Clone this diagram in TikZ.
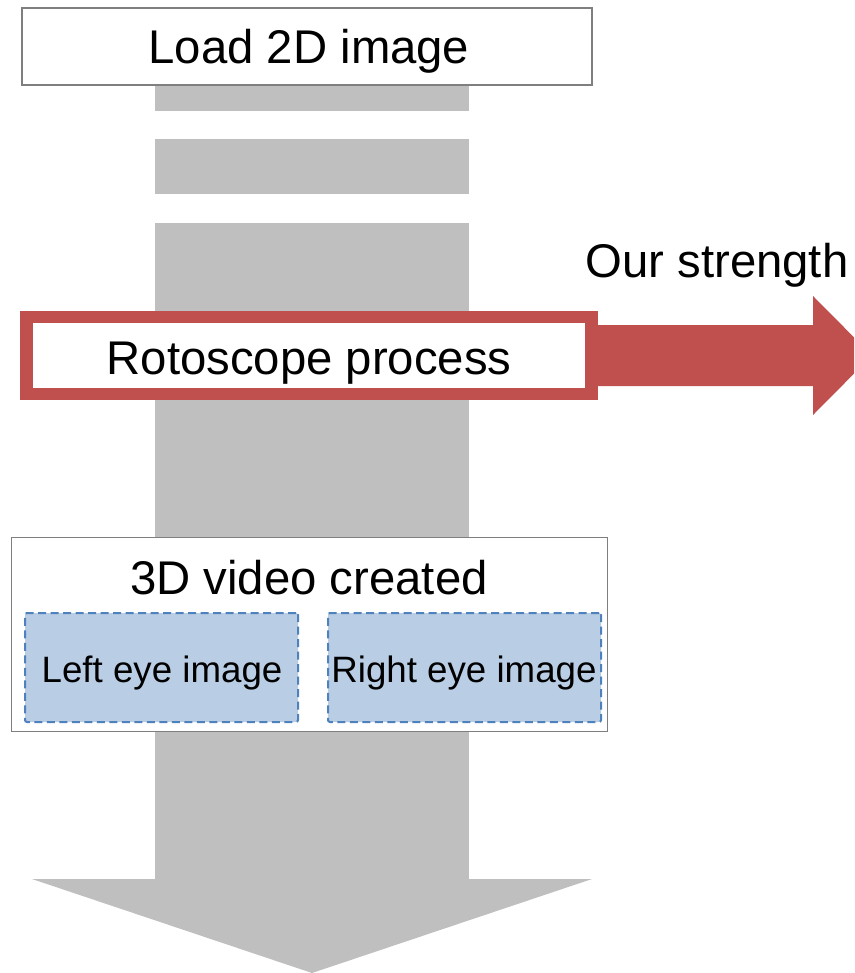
\documentclass[tikz,border=0pt]{standalone}
\usepackage{fontspec}
\setmainfont{Liberation Sans}
\definecolor{shaftgray}{HTML}{BFBFBF}
\definecolor{strengthred}{HTML}{C0504D}
\definecolor{eyefill}{HTML}{B9CDE5}
\definecolor{eyeline}{HTML}{4F81BD}
\definecolor{boxline}{HTML}{7F7F7F}
\tikzset{
  plainbox/.style={draw=boxline, line width=1.2pt, fill=white, inner sep=0pt},
  eyebox/.style={draw=eyeline, line width=2pt, dash pattern=on 8pt off 4.5pt, fill=eyefill, rounded corners=2pt, inner sep=0pt, minimum width=273pt, minimum height=109pt},
  bigtext/.style={anchor=base, inner sep=0pt, font=\fontsize{47.3}{50}\selectfont},
  smalltext/.style={anchor=base, inner sep=0pt, font=\fontsize{36.7}{40}\selectfont},
}
\begin{document}
\begin{tikzpicture}[x=1pt,y=-1pt]
\useasboundingbox (0,0) rectangle (854,973);
\clip (0,0) rectangle (854,973);
% grey flow arrow
\fill[shaftgray] (155,85) rectangle (469,111.5);
\fill[shaftgray] (155,139) rectangle (469,194.5);
\fill[shaftgray] (155,223) rectangle (469,879.5);
\coordinate (tip) at (312,973);
\fill[shaftgray] (32,879) -- (592,879) -- (tip) -- cycle;
% load box
\node[plainbox, minimum width=570pt, minimum height=77pt] (loadbox) at (307,46.5) {};
\node[bigtext] (loadtxt) at (309,64) {Load 2D image};
% red arrow
\fill[strengthred] (20,311) rectangle (598,400);
\fill[strengthred] (585,325) -- (813,325) -- (813,296) -- (872,355.5) -- (813,415) -- (813,386) -- (585,386) -- cycle;
\node[fill=white, inner sep=0pt, minimum width=552pt, minimum height=65pt] (rotobox) at (309,355.5) {};
\node[bigtext] (rototxt) at (309,374) {Rotoscope process};
\node[bigtext] (strength) at (717,277) {Our strength};
% 3D video box
\node[plainbox, line width=1pt, minimum width=596pt, minimum height=194pt] (videobox) at (309,634) {};
\node[bigtext] (videotxt) at (309,594) {3D video created};
\node[eyebox] (leftbox) at (161.5,667.5) {};
\node[eyebox] (rightbox) at (464.5,667.5) {};
\node[smalltext] (lefttxt) at (162,682) {Left eye image};
\node[smalltext] (righttxt) at (464,682) {Right eye image};
\end{tikzpicture}
\end{document}
